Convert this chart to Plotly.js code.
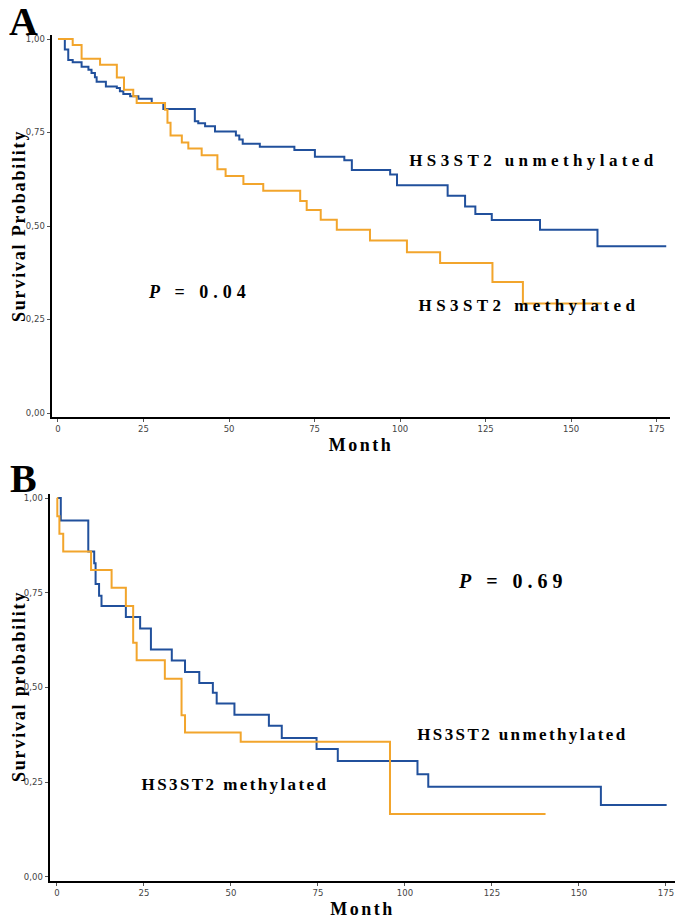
<!DOCTYPE html>
<html>
<head>
<meta charset="utf-8">
<script src="https://cdn.plot.ly/plotly-3.0.1.min.js"></script>
<style>
  html, body { margin: 0; padding: 0; background: #fff; }
  #chart { width: 683px; height: 922px; }
  .g-xtitle text, .g-x2title text { letter-spacing: 2.5px; }
  .annotation[data-index="2"] .annotation-text,
  .annotation[data-index="3"] .annotation-text { letter-spacing: 4.4px; }
  .annotation[data-index="4"] .annotation-text { letter-spacing: 5px; }
  .annotation[data-index="5"] .annotation-text { letter-spacing: 5px; }
  .annotation[data-index="6"] .annotation-text,
  .annotation[data-index="7"] .annotation-text { letter-spacing: 2.4px; }
  .annotation[data-index="8"] .annotation-text,
  .annotation[data-index="9"] .annotation-text { letter-spacing: 1.8px; }
</style>
</head>
<body>
<div id="chart"></div>
<script>
// ---- Panel A data (months, survival probability) ----
const aUnmethMonths = [0, 2.0, 3.0, 4.3, 6.9, 8.9, 9.8, 10.8, 11.3, 14.0, 17.2, 18.1, 19.1, 21.1, 23.5, 27.4, 30.8, 40.0, 41.0, 43.0, 45.9, 52.0, 53.0, 54.0, 59.0, 69.1, 75.1, 83.7, 85.9, 97.1, 99.1, 113.9, 119.0, 122.0, 126.8, 140.9, 157.7, 177.8];
const aUnmethSurv   = [1.0, 0.972, 0.944, 0.938, 0.926, 0.918, 0.909, 0.898, 0.886, 0.873, 0.869, 0.86, 0.853, 0.847, 0.84, 0.829, 0.813, 0.78, 0.775, 0.767, 0.753, 0.742, 0.731, 0.72, 0.712, 0.703, 0.685, 0.676, 0.65, 0.638, 0.609, 0.581, 0.552, 0.532, 0.516, 0.49, 0.446, 0.446];
const aMethMonths = [0, 4.3, 6.9, 12.3, 17.2, 19.3, 22.0, 23.0, 31.3, 32.0, 32.9, 36.2, 38.1, 42.0, 46.6, 49.0, 54.2, 60.0, 70.8, 72.7, 76.8, 81.5, 91.2, 102.0, 111.7, 127.0, 135.9, 159.0];
const aMethSurv   = [1.0, 0.984, 0.947, 0.931, 0.897, 0.864, 0.847, 0.829, 0.811, 0.776, 0.742, 0.723, 0.707, 0.689, 0.652, 0.634, 0.612, 0.594, 0.567, 0.543, 0.517, 0.49, 0.461, 0.43, 0.401, 0.35, 0.293, 0.293];

// ---- Panel B data ----
const bUnmethMonths = [0, 1.1, 9.0, 10.7, 11.1, 12.1, 12.8, 19.8, 23.9, 27.0, 33.0, 36.8, 40.9, 44.8, 45.9, 51.0, 60.9, 64.6, 74.6, 80.7, 103.6, 106.7, 156.3, 175.2];
const bUnmethSurv   = [1.0, 0.941, 0.859, 0.828, 0.773, 0.742, 0.715, 0.686, 0.656, 0.6, 0.571, 0.541, 0.512, 0.486, 0.458, 0.428, 0.399, 0.367, 0.338, 0.306, 0.271, 0.238, 0.19, 0.19];
const bMethMonths = [0, 0.1, 0.7, 1.8, 9.8, 15.7, 19.8, 21.9, 22.9, 31.0, 35.8, 36.8, 52.8, 95.7, 140.4];
const bMethSurv   = [1.0, 0.952, 0.906, 0.859, 0.81, 0.763, 0.715, 0.618, 0.572, 0.523, 0.427, 0.381, 0.357, 0.166, 0.166];

// ---- Tick labels ----
const yTickVals = [0, 0.25, 0.5, 0.75, 1.0];
const yTickText = ["0,00", "0,25", "0,50", "0,75", "1,00"];
const xTickVals = [0, 25, 50, 75, 100, 125, 150, 175];
const xTickText = ["0", "25", "50", "75", "100", "125", "150", "175"];

const BLUE = "#21509c";
const ORANGE = "#f2a52c";
const SERIF = "Liberation Serif, Times New Roman, serif";
const TICKFONT = {family: "DejaVu Sans", size: 8.5, color: "#444", stretch: "condensed"};

const traces = [
  {x: aUnmethMonths, y: aUnmethSurv, xaxis: "x", yaxis: "y", type: "scatter", mode: "lines",
   line: {shape: "hv", color: BLUE, width: 2}, name: "HS3ST2 unmethylated"},
  {x: aMethMonths, y: aMethSurv, xaxis: "x", yaxis: "y", type: "scatter", mode: "lines",
   line: {shape: "hv", color: ORANGE, width: 2}, name: "HS3ST2 methylated"},
  {x: bUnmethMonths, y: bUnmethSurv, xaxis: "x2", yaxis: "y2", type: "scatter", mode: "lines",
   line: {shape: "hv", color: BLUE, width: 2}, name: "HS3ST2 unmethylated"},
  {x: bMethMonths, y: bMethSurv, xaxis: "x2", yaxis: "y2", type: "scatter", mode: "lines",
   line: {shape: "hv", color: ORANGE, width: 2}, name: "HS3ST2 methylated"}
];

function xAx(domain, range, anchor) {
  return {
    domain: domain, range: range, anchor: anchor,
    showgrid: false, zeroline: false,
    showline: true, linecolor: "#000", linewidth: 2,
    ticks: "outside", ticklen: 3, tickwidth: 1, tickcolor: "#555",
    tickvals: xTickVals, ticktext: xTickText,
    tickfont: TICKFONT,
    title: {text: "<b>Month</b>", font: {family: SERIF, size: 18, color: "#000"}, standoff: 5}
  };
}
function yAx(domain, range, anchor) {
  return {
    domain: domain, range: range, anchor: anchor,
    showgrid: false, zeroline: false,
    showline: true, linecolor: "#000", linewidth: 2.5,
    ticks: "outside", ticklen: 3, tickwidth: 1, tickcolor: "#555",
    tickvals: yTickVals, ticktext: yTickText,
    tickfont: TICKFONT
  };
}

const ann = (text, x, y, size, extra) => Object.assign({
  text: text, x: x, y: y, xref: "paper", yref: "paper",
  xanchor: "center", yanchor: "middle", showarrow: false,
  font: {family: SERIF, size: size, color: "#000"}
}, extra || {});

const layout = {
  width: 683, height: 922,
  margin: {l: 0, r: 0, t: 0, b: 0},
  paper_bgcolor: "#fff", plot_bgcolor: "#fff",
  showlegend: false,
  xaxis: xAx([52/683, 670/683], [-1.75, 178.9], "y"),
  yaxis: yAx([1 - 417/922, 1 - 35/922], [-0.0107, 1.0107], "x"),
  xaxis2: xAx([50/683, 675/683], [-2.0, 177.6], "y2"),
  yaxis2: yAx([1 - 881/922, 1 - 494/922], [-0.0106, 1.0106], "x2"),
  annotations: [
    ann("<b>A</b>", 23/683, 1.0, 40, {yanchor: "top", height: 40, borderpad: 0}),
    ann("<b>B</b>", 23/683, 1 - 457/922, 40, {yanchor: "top", height: 40, borderpad: 0}),
    ann("<b>HS3ST2 unmethylated</b>", 533.5/683, 1 - 160/922, 17),
    ann("<b>HS3ST2 methylated</b>", 529/683, 1 - 305/922, 17),
    ann("<b><i>P</i> = 0.04</b>", 199/683, 1 - 292/922, 18),
    ann("<b><i>P</i> = 0.69</b>", 513/683, 1 - 581/922, 20),
    ann("<b>HS3ST2 unmethylated</b>", 522.5/683, 1 - 734/922, 17),
    ann("<b>HS3ST2 methylated</b>", 235/683, 1 - 784/922, 17),
    ann("<b>Survival Probability</b>", 19/683, 1 - 226/922, 18, {textangle: -90}),
    ann("<b>Survival probability</b>", 19/683, 1 - 687/922, 18, {textangle: -90})
  ]
};

Plotly.newPlot("chart", traces, layout, {displayModeBar: false, staticPlot: true});
</script>
</body>
</html>
